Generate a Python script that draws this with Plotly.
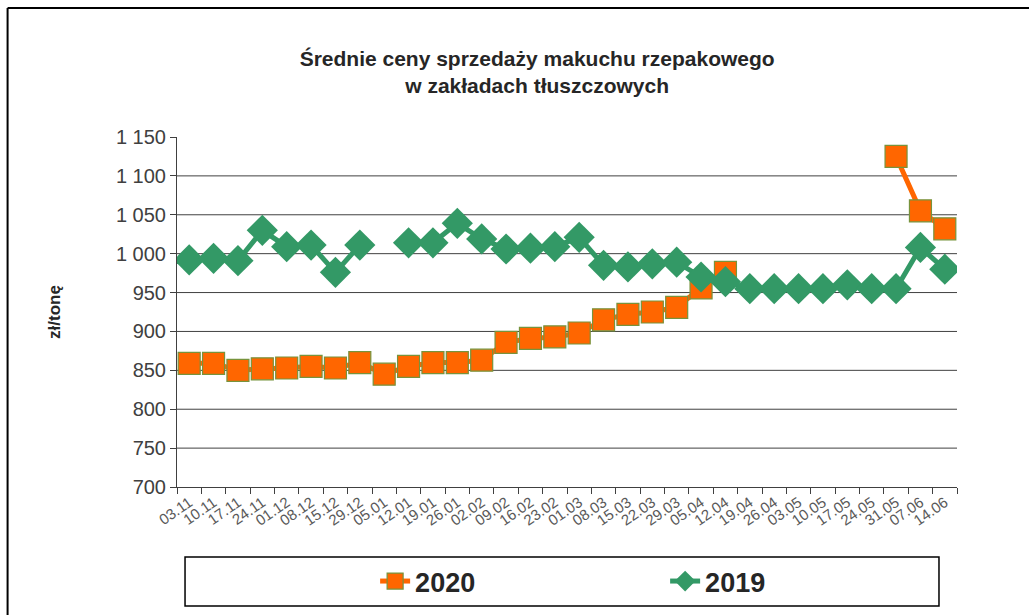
import plotly.graph_objects as go

categories = ["03.11", "10.11", "17.11", "24.11", "01.12", "08.12", "15.12", "29.12",
              "05.01", "12.01", "19.01", "26.01", "02.02", "09.02", "16.02", "23.02",
              "01.03", "08.03", "15.03", "22.03", "29.03", "05.04", "12.04", "19.04",
              "26.04", "03.05", "10.05", "17.05", "24.05", "31.05", "07.06", "14.06"]

values_2020 = [859, 859, 850, 852, 853, 855, 853, 860,
               845, 855, 860, 860, 863, 886, 891, 893,
               898, 915, 922, 925, 931, 956, 976, None,
               None, None, None, None, None, 1125, 1055, 1032]

values_2019 = [992, 994, 991, 1030, 1009, 1011, 976, 1011,
               None, 1014, 1014, 1039, 1019, 1006, 1007, 1009,
               1021, 985, 983, 987, 989, 970, 964, 955,
               955, 955, 955, 960, 955, 955, 1008, 980]

y_ticks = [700, 750, 800, 850, 900, 950, 1000, 1050, 1100, 1150]
y_tick_text = ["700", "750", "800", "850", "900", "950", "1 000", "1 050", "1 100", "1 150"]

FONT = "Liberation Sans, Arial, sans-serif"
AXIS_COL = "#404040"

fig = go.Figure()
fig.add_trace(go.Scatter(
    x=categories, y=values_2020, name="2020", mode="lines+markers",
    line=dict(color="#FF6600", width=5),
    marker=dict(symbol="square", size=22, color="#FF6600",
                line=dict(color="#77933C", width=1.2)),
    connectgaps=False,
))
fig.add_trace(go.Scatter(
    x=categories, y=values_2019, name="2019", mode="lines+markers",
    line=dict(color="#339966", width=5),
    marker=dict(symbol="diamond", size=24, color="#339966"),
    connectgaps=False,
))

shapes = []
# horizontal gridlines (excluding top tick)
for v in y_ticks[1:-1]:
    shapes.append(dict(type="line", xref="paper", yref="y", x0=0, x1=1, y0=v, y1=v,
                       line=dict(color=AXIS_COL, width=1), layer="below"))
# outer frame (top and left edges visible)
shapes.append(dict(type="line", xref="paper", yref="paper",
                   x0=-0.2172, x1=1.2, y0=1.3686, y1=1.3686,
                   line=dict(color="#000000", width=2)))
shapes.append(dict(type="line", xref="paper", yref="paper",
                   x0=-0.2172, x1=-0.2172, y0=-0.6, y1=1.3686,
                   line=dict(color="#000000", width=2)))
# legend box
shapes.append(dict(type="rect", xref="paper", yref="paper",
                   x0=0.0103, x1=0.9769, y0=-0.34, y1=-0.2,
                   line=dict(color="#000000", width=1.5), fillcolor="rgba(0,0,0,0)"))

fig.update_layout(
    width=1029, height=615, autosize=False,
    margin=dict(l=177, r=72, t=137, b=128, autoexpand=False),
    paper_bgcolor="white", plot_bgcolor="white",
    font=dict(family=FONT, color=AXIS_COL),
    title=dict(
        text="<b>Średnie ceny sprzedaży makuchu rzepakowego<br>w zakładach tłuszczowych</b>",
        x=0.522, xanchor="center", xref="container",
        y=1 - 66 / 615, yanchor="top",
        font=dict(family=FONT, size=21, color="#262626"),
    ),
    xaxis=dict(
        type="category", tickson="boundaries", ticks="outside", ticklen=6,
        tickcolor=AXIS_COL, showline=True, linecolor=AXIS_COL, linewidth=1,
        showgrid=False, tickangle=-35,
        tickfont=dict(family=FONT, size=15, color="#595959"),
        range=[-0.5, len(categories) - 0.5],
    ),
    yaxis=dict(
        range=[700, 1150], tickvals=y_ticks, ticktext=y_tick_text,
        ticks="outside", ticklen=6, tickcolor=AXIS_COL,
        showline=True, linecolor=AXIS_COL, linewidth=1,
        showgrid=False, zeroline=False,
        tickfont=dict(family=FONT, size=20, color=AXIS_COL),
        title=dict(text="<b>zł/tonę</b>", font=dict(family=FONT, size=17, color="#262626"),
                   standoff=50),
    ),
    legend=dict(
        orientation="h", x=0.254, xanchor="left", y=-0.27, yanchor="middle",
        font=dict(family=FONT, size=27, color="#262626", weight="bold"),
        entrywidth=245, entrywidthmode="pixels",
        bgcolor="rgba(0,0,0,0)", borderwidth=0,
        itemclick=False,
    ),
    shapes=shapes,
    showlegend=True,
)

fig.write_html(
    "out.html",
    post_script="document.body.style.margin='0';document.body.style.overflow='hidden';"
                "document.documentElement.style.overflow='hidden';",
    config={"displayModeBar": False},
)
